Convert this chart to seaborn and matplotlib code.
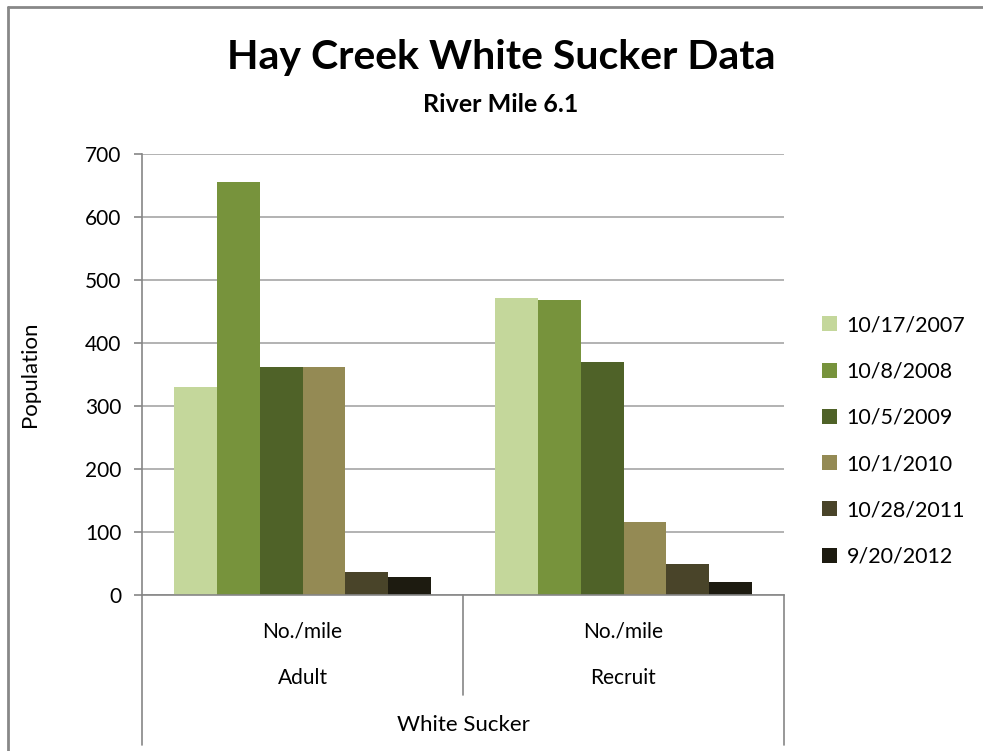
import matplotlib
matplotlib.use("Agg")
import matplotlib.pyplot as plt
import matplotlib.lines as mlines
import seaborn as sns
import pandas as pd

# Survey dates (legend entries) and their bar colours
dates = ["10/17/2007", "10/8/2008", "10/5/2009", "10/1/2010", "10/28/2011", "9/20/2012"]
colors = ["#C4D79B", "#77933C", "#4F6228", "#948A54", "#494429", "#1D1B10"]

# Life stage groups
stages = ["Adult", "Recruit"]

# Population estimates (No./mile) per survey date
adult = [330, 655, 361, 361, 36, 28]
recruit = [471, 467, 369, 116, 48, 20]

yticks = [0, 100, 200, 300, 400, 500, 600, 700]

df = pd.DataFrame({
    "stage": [s for s in stages for _ in dates],
    "date": dates * 2,
    "population": adult + recruit,
})

sns.set_theme(style="white")
plt.rcParams["font.family"] = ["Lato", "DejaVu Sans"]
plt.rcParams["text.color"] = "black"
plt.rcParams["axes.labelcolor"] = "black"
plt.rcParams["ytick.color"] = "black"

W, H = 983, 751
fig = plt.figure(figsize=(W / 100, H / 100), dpi=100)

left, right, top, bottom = 142, 784, 153.7, 594.7
ax = fig.add_axes([left / W, 1 - bottom / H, (right - left) / W, (bottom - top) / H])

grid_c = "#A6A6A6"
axis_c = "#868686"

sns.barplot(data=df, x="stage", y="population", hue="date", hue_order=dates,
            order=stages, palette=colors, width=0.8, saturation=1,
            edgecolor="none", linewidth=0, ax=ax, legend=True)

ax.set_ylim(0, 700)
ax.set_xlim(-0.5, 1.5)
ax.set_yticks(yticks)
ax.set_yticklabels([str(v) for v in yticks], fontsize=15, color="black")
ax.yaxis.grid(True, color=grid_c, linewidth=1.2)
ax.set_axisbelow(True)
ax.tick_params(axis="y", which="major", left=True, length=6, width=1.2,
               color=axis_c, pad=9)
ax.set_xticks([])
ax.set_xlabel("")
ax.set_ylabel("Population", fontsize=16, labelpad=32, color="black")

for side in ["top", "right"]:
    ax.spines[side].set_visible(False)
ax.spines["left"].set_color(axis_c)
ax.spines["left"].set_linewidth(1.2)
ax.spines["bottom"].set_color(axis_c)
ax.spines["bottom"].set_linewidth(1.2)

# Multi-level category axis below the plot area
def axy(py):
    return -(py - bottom) / (bottom - top)

trans = ax.get_xaxis_transform()
for xv, ybot in [(-0.5, 745), (0.5, 695), (1.5, 745)]:
    ax.add_line(mlines.Line2D([xv, xv], [0, axy(ybot)], transform=trans,
                              color=axis_c, linewidth=1.2, clip_on=False))

for i, s in enumerate(stages):
    ax.text(i, axy(631), "No./mile", transform=trans, ha="center", va="center",
            fontsize=15)
    ax.text(i, axy(678), s, transform=trans, ha="center", va="center",
            fontsize=15)
ax.text(0.5, axy(725), "White Sucker", transform=trans, ha="center",
        va="center", fontsize=16)

# Titles
fig.text(501 / W, 1 - 58 / H, "Hay Creek White Sucker Data", ha="center",
         va="center", fontsize=29.5, fontweight="bold")
fig.text(501 / W, 1 - 105 / H, "River Mile 6.1", ha="center", va="center",
         fontsize=18, fontweight="bold")

# Legend on the right
handles, labels = ax.get_legend_handles_labels()
leg = ax.legend(handles, labels, loc="center left",
                bbox_to_anchor=(822 / W, 1 - 441 / H), bbox_transform=fig.transFigure,
                frameon=False, fontsize=15.5, handlelength=0.7, handleheight=0.7,
                handletextpad=0.45, labelspacing=1.22, borderaxespad=0,
                borderpad=0)

# Chart frame (top and left edges)
fig.add_artist(mlines.Line2D([8 / W, 1], [1 - 7 / H, 1 - 7 / H],
                             transform=fig.transFigure, color="#888888", linewidth=2))
fig.add_artist(mlines.Line2D([8 / W, 8 / W], [0, 1 - 7 / H],
                             transform=fig.transFigure, color="#888888", linewidth=2))

fig.savefig("out.png", dpi=100, facecolor="white")
